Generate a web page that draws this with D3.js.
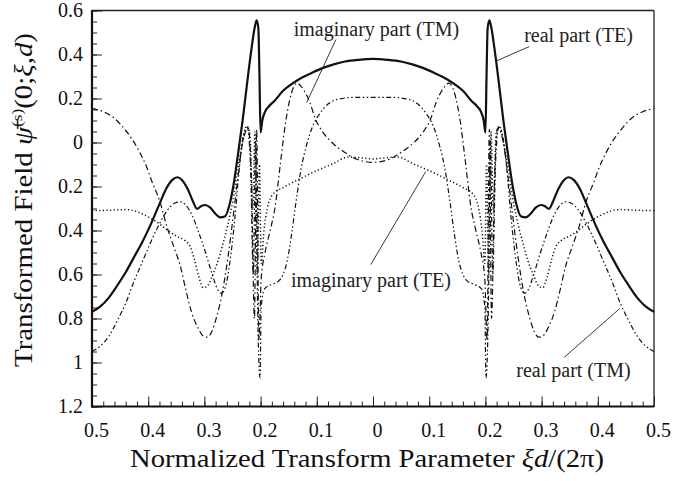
<!DOCTYPE html>
<html lang="en">
<head>
<meta charset="UTF-8">
<title>Transformed Field</title>
<script src="https://d3js.org/d3.v7.min.js"></script>
<style>
  body { margin: 0; background: #fff; }
  svg { display: block; font-family: "Liberation Serif", serif; }
</style>
</head>
<body>
<svg id="chart" width="677" height="481"></svg>
<script>
// ---- data ----
const xTicks = [-0.5, -0.4, -0.3, -0.2, -0.1, 0, 0.1, 0.2, 0.3, 0.4, 0.5];
const yTicks = [0.6, 0.4, 0.2, 0, -0.2, -0.4, -0.6, -0.8, -1, -1.2];

// real part (TE) - solid
const realTE = [
  [-0.5,-0.77],[-0.485,-0.745],[-0.47,-0.705],[-0.455,-0.65],[-0.44,-0.59],[-0.425,-0.52],
  [-0.41,-0.45],[-0.395,-0.37],[-0.38,-0.28],[-0.368,-0.21],[-0.357,-0.17],[-0.348,-0.158],
  [-0.34,-0.17],[-0.33,-0.21],[-0.32,-0.27],[-0.313,-0.302],[-0.306,-0.29],[-0.299,-0.284],
  [-0.29,-0.295],[-0.28,-0.325],[-0.272,-0.34],[-0.263,-0.335],[-0.255,-0.28],[-0.248,-0.19],
  [-0.24,-0.05],[-0.232,0.1],[-0.224,0.27],[-0.216,0.43],[-0.21,0.53],[-0.207,0.555],
  [-0.204,0.52],[-0.202,0.3],[-0.2,0.045],[-0.197,0.1],[-0.192,0.14],[-0.185,0.165],
  [-0.175,0.19],[-0.16,0.235],[-0.145,0.265],[-0.13,0.29],[-0.11,0.315],[-0.09,0.338],
  [-0.07,0.355],[-0.05,0.368],[-0.025,0.376],[0,0.38],
  [0.025,0.376],[0.05,0.368],[0.07,0.355],[0.09,0.338],[0.11,0.315],[0.13,0.29],
  [0.145,0.265],[0.16,0.235],[0.175,0.19],[0.185,0.165],[0.192,0.14],[0.197,0.1],
  [0.2,0.045],[0.202,0.3],[0.204,0.52],[0.207,0.555],[0.21,0.53],[0.216,0.43],
  [0.224,0.27],[0.232,0.1],[0.24,-0.05],[0.248,-0.19],[0.255,-0.28],[0.263,-0.335],
  [0.272,-0.34],[0.28,-0.325],[0.29,-0.295],[0.299,-0.284],[0.306,-0.29],[0.313,-0.302],
  [0.32,-0.27],[0.33,-0.21],[0.34,-0.17],[0.348,-0.158],[0.357,-0.17],[0.368,-0.21],
  [0.38,-0.28],[0.395,-0.37],[0.41,-0.45],[0.425,-0.52],[0.44,-0.59],[0.455,-0.65],
  [0.47,-0.705],[0.485,-0.745],[0.5,-0.77]
];

// imaginary part (TE) - dotted
const imagTE = [
  [-0.5,-0.31],[-0.47,-0.308],[-0.44,-0.305],[-0.425,-0.31],[-0.41,-0.325],[-0.395,-0.345],
  [-0.38,-0.37],[-0.365,-0.4],[-0.35,-0.425],[-0.335,-0.445],[-0.325,-0.475],[-0.318,-0.53],
  [-0.31,-0.61],[-0.302,-0.66],[-0.294,-0.65],[-0.285,-0.6],[-0.276,-0.54],[-0.267,-0.46],
  [-0.258,-0.37],[-0.249,-0.26],[-0.24,-0.11],[-0.232,0.0],[-0.225,0.075],[-0.219,0.04],
  [-0.214,-0.3],[-0.21,0.05],[-0.206,-0.6],[-0.202,-0.1],[-0.199,-0.55],[-0.194,-0.4],
  [-0.188,-0.3],[-0.178,-0.235],[-0.16,-0.205],[-0.13,-0.165],[-0.1,-0.128],[-0.07,-0.095],
  [-0.044,-0.066],[-0.02,-0.07],[0,-0.075],
  [0.02,-0.07],[0.044,-0.066],[0.07,-0.095],[0.1,-0.128],[0.13,-0.165],[0.16,-0.205],
  [0.178,-0.235],[0.188,-0.3],[0.194,-0.4],[0.199,-0.55],[0.202,-0.1],[0.206,-0.6],
  [0.21,0.05],[0.214,-0.3],[0.219,0.04],[0.225,0.075],[0.232,0.0],[0.24,-0.11],
  [0.249,-0.26],[0.258,-0.37],[0.267,-0.46],[0.276,-0.54],[0.285,-0.6],[0.294,-0.65],
  [0.302,-0.66],[0.31,-0.61],[0.318,-0.53],[0.325,-0.475],[0.335,-0.445],[0.35,-0.425],
  [0.365,-0.4],[0.38,-0.37],[0.395,-0.345],[0.41,-0.325],[0.425,-0.31],[0.44,-0.305],
  [0.47,-0.308],[0.5,-0.31]
];

// imaginary part (TM) - dash-dot
const imagTM = [
  [-0.5,0.155],[-0.48,0.14],[-0.46,0.11],[-0.445,0.07],[-0.43,0.02],[-0.415,-0.045],
  [-0.403,-0.11],[-0.393,-0.18],[-0.379,-0.27],[-0.367,-0.38],[-0.355,-0.47],[-0.343,-0.56],
  [-0.333,-0.67],[-0.323,-0.77],[-0.312,-0.84],[-0.302,-0.88],[-0.295,-0.885],[-0.287,-0.86],
  [-0.278,-0.79],[-0.268,-0.68],[-0.258,-0.52],[-0.248,-0.32],[-0.24,-0.15],[-0.232,0.0],
  [-0.222,0.065],[-0.216,-0.2],[-0.211,-0.8],[-0.207,0.06],[-0.203,-0.9],[-0.199,-0.62],
  [-0.192,-0.5],[-0.183,-0.4],[-0.174,-0.29],[-0.165,-0.1],[-0.155,0.1],[-0.145,0.225],
  [-0.135,0.27],[-0.125,0.245],[-0.112,0.18],[-0.103,0.11],[-0.09,0.05],[-0.073,0.0],
  [-0.05,-0.045],[-0.03,-0.075],[0,-0.09],
  [0.03,-0.075],[0.05,-0.045],[0.073,0.0],[0.09,0.05],[0.103,0.11],[0.112,0.18],
  [0.125,0.245],[0.135,0.27],[0.145,0.225],[0.155,0.1],[0.165,-0.1],[0.174,-0.29],
  [0.183,-0.4],[0.192,-0.5],[0.199,-0.62],[0.203,-0.9],[0.207,0.06],[0.211,-0.8],
  [0.216,-0.2],[0.222,0.065],[0.232,0.0],[0.24,-0.15],[0.248,-0.32],[0.258,-0.52],
  [0.268,-0.68],[0.278,-0.79],[0.287,-0.86],[0.295,-0.885],[0.302,-0.88],[0.312,-0.84],
  [0.323,-0.77],[0.333,-0.67],[0.343,-0.56],[0.355,-0.47],[0.367,-0.38],[0.379,-0.27],
  [0.393,-0.18],[0.403,-0.11],[0.415,-0.045],[0.43,0.02],[0.445,0.07],[0.46,0.11],
  [0.48,0.14],[0.5,0.155]
];

// real part (TM) - dash-dot-dot
const realTM = [
  [-0.5,-0.95],[-0.485,-0.925],[-0.47,-0.88],[-0.455,-0.81],[-0.44,-0.73],[-0.425,-0.63],
  [-0.41,-0.54],[-0.395,-0.45],[-0.38,-0.37],[-0.365,-0.305],[-0.352,-0.275],[-0.343,-0.27],
  [-0.333,-0.285],[-0.322,-0.33],[-0.31,-0.41],[-0.298,-0.5],[-0.286,-0.6],[-0.276,-0.67],
  [-0.27,-0.685],[-0.263,-0.66],[-0.255,-0.55],[-0.246,-0.35],[-0.238,-0.12],[-0.23,0.04],
  [-0.224,0.07],[-0.218,-0.1],[-0.213,-0.6],[-0.209,0.0],[-0.205,-0.8],[-0.201,-1.07],
  [-0.199,-0.75],[-0.193,-0.665],[-0.18,-0.645],[-0.168,-0.63],[-0.16,-0.6],[-0.152,-0.53],
  [-0.145,-0.42],[-0.137,-0.27],[-0.128,-0.12],[-0.118,-0.01],[-0.108,0.07],[-0.095,0.13],
  [-0.08,0.175],[-0.06,0.198],[-0.035,0.205],[0,0.205],
  [0.035,0.205],[0.06,0.198],[0.08,0.175],[0.095,0.13],[0.108,0.07],[0.118,-0.01],
  [0.128,-0.12],[0.137,-0.27],[0.145,-0.42],[0.152,-0.53],[0.16,-0.6],[0.168,-0.63],
  [0.18,-0.645],[0.193,-0.665],[0.199,-0.75],[0.201,-1.07],[0.205,-0.8],[0.209,0.0],
  [0.213,-0.6],[0.218,-0.1],[0.224,0.07],[0.23,0.04],[0.238,-0.12],[0.246,-0.35],
  [0.255,-0.55],[0.263,-0.66],[0.27,-0.685],[0.276,-0.67],[0.286,-0.6],[0.298,-0.5],
  [0.31,-0.41],[0.322,-0.33],[0.333,-0.285],[0.343,-0.27],[0.352,-0.275],[0.365,-0.305],
  [0.38,-0.37],[0.395,-0.45],[0.41,-0.54],[0.425,-0.63],[0.44,-0.73],[0.455,-0.81],
  [0.47,-0.88],[0.485,-0.925],[0.5,-0.95]
];

// annotation labels: text, label anchor, leader start, leader end (data units)
const notes = [
  { text: "imaginary part (TM)", at: [-0.141, 0.482], from: [-0.066, 0.468], to: [-0.118, 0.182] },
  { text: "real part (TE)",      at: [0.269, 0.459],  from: [0.278, 0.436],  to: [0.217, 0.368] },
  { text: "imaginary part (TE)", at: [-0.146, -0.655], from: [-0.004, -0.555], to: [0.094, -0.132] },
  { text: "real part (TM)",      at: [0.255, -1.068], from: [0.34, -0.977],  to: [0.439, -0.755] }
];

// ---- layout ----
const svg = d3.select("#chart");
const margin = { left: 92, top: 10.5, right: 23, bottom: 74.5 };
const W = 677, H = 481;
const iw = W - margin.left - margin.right;
const ih = H - margin.top - margin.bottom;

const x = d3.scaleLinear().domain([-0.5, 0.5]).range([0, iw]);
const y = d3.scaleLinear().domain([-1.2, 0.6]).range([ih, 0]);

const g = svg.append("g").attr("transform", `translate(${margin.left},${margin.top})`);

const fmt = v => d3.format("~g")(Math.abs(+v.toFixed(2)));

// minor ticks
g.append("g")
  .attr("transform", `translate(0,${ih})`)
  .call(d3.axisBottom(x).tickValues(d3.range(-25, 26).map(i => i * 0.02)).tickSizeInner(-5).tickSizeOuter(0).tickFormat(""))
  .call(a => a.select(".domain").remove());
g.append("g")
  .call(d3.axisLeft(y).tickValues(d3.range(-24, 13).map(i => i * 0.05)).tickSizeInner(-5).tickSizeOuter(0).tickFormat(""))
  .call(a => a.select(".domain").remove());

// major ticks + labels
const xAxis = g.append("g")
  .attr("transform", `translate(0,${ih})`)
  .call(d3.axisBottom(x).tickValues(xTicks).tickSizeInner(-10).tickSizeOuter(0).tickPadding(17).tickFormat(fmt));
const yAxis = g.append("g")
  .call(d3.axisLeft(y).tickValues(yTicks).tickSizeInner(-10).tickSizeOuter(0).tickPadding(9).tickFormat(fmt));

[xAxis, yAxis].forEach(a => {
  a.select(".domain").remove();
  a.selectAll("text").attr("font-family", "Liberation Serif, serif").attr("font-size", 20).attr("fill", "#111");
});
xAxis.selectAll("text").attr("dx", 4).attr("dy", "0.66em");
g.selectAll(".tick line").attr("stroke", "#222").attr("stroke-width", 1);

// frame: heavier left and bottom
g.append("line").attr("x1", 0).attr("x2", iw).attr("y1", 0).attr("y2", 0).attr("stroke", "#222").attr("stroke-width", 1.3);
g.append("line").attr("x1", iw).attr("x2", iw).attr("y1", 0).attr("y2", ih).attr("stroke", "#222").attr("stroke-width", 1.3);
g.append("line").attr("x1", 0).attr("x2", 0).attr("y1", -0.6).attr("y2", ih + 1).attr("stroke", "#111").attr("stroke-width", 2.2);
g.append("line").attr("x1", -1).attr("x2", iw).attr("y1", ih).attr("y2", ih).attr("stroke", "#111").attr("stroke-width", 2.2);

// curves
const line = d3.line().x(d => x(d[0])).y(d => y(d[1])).curve(d3.curveMonotoneX);
const series = [
  { data: imagTE, width: 1.5, dash: "1.2,2.4" },
  { data: imagTM, width: 1.2, dash: "6,3,1.5,3" },
  { data: realTM, width: 1.2, dash: "5,2.5,1.5,2.5,1.5,2.5" },
  { data: realTE, width: 2.2, dash: null }
];
g.selectAll("path.curve")
  .data(series)
  .enter()
  .append("path")
  .attr("class", "curve")
  .attr("d", d => line(d.data))
  .attr("fill", "none")
  .attr("stroke", "#111")
  .attr("stroke-width", d => d.width)
  .attr("stroke-dasharray", d => d.dash)
  .attr("stroke-linejoin", "round");

// annotations
const ann = g.selectAll("g.note").data(notes).enter().append("g").attr("class", "note");
ann.append("line")
  .attr("x1", d => x(d.from[0])).attr("y1", d => y(d.from[1]))
  .attr("x2", d => x(d.to[0])).attr("y2", d => y(d.to[1]))
  .attr("stroke", "#222").attr("stroke-width", 0.9);
ann.append("text")
  .attr("x", d => x(d.at[0])).attr("y", d => y(d.at[1]))
  .attr("font-size", 20).attr("fill", "#222")
  .text(d => d.text);

// axis titles
svg.append("text")
  .attr("x", 367).attr("y", 467)
  .attr("text-anchor", "middle")
  .attr("font-size", 25).attr("fill", "#111")
  .attr("textLength", 474).attr("lengthAdjust", "spacingAndGlyphs")
  .call(t => {
    t.append("tspan").text("Normalized Transform Parameter ");
    t.append("tspan").attr("font-style", "italic").text("ξd");
    t.append("tspan").text("/(2π)");
  });

svg.append("text")
  .attr("transform", "translate(32,200) rotate(-90)")
  .attr("text-anchor", "middle")
  .attr("font-size", 25).attr("fill", "#111")
  .attr("textLength", 334).attr("lengthAdjust", "spacingAndGlyphs")
  .call(t => {
    t.append("tspan").text("Transformed Field ");
    t.append("tspan").attr("font-style", "italic").text("ψ\u0304");
    t.append("tspan").attr("font-size", 15).attr("dy", -10).text("(s)");
    t.append("tspan").attr("dy", 10).text("(0;");
    t.append("tspan").attr("font-style", "italic").text("ξ");
    t.append("tspan").text(",");
    t.append("tspan").attr("font-style", "italic").text("d");
    t.append("tspan").text(")");
  });
</script>
</body>
</html>
